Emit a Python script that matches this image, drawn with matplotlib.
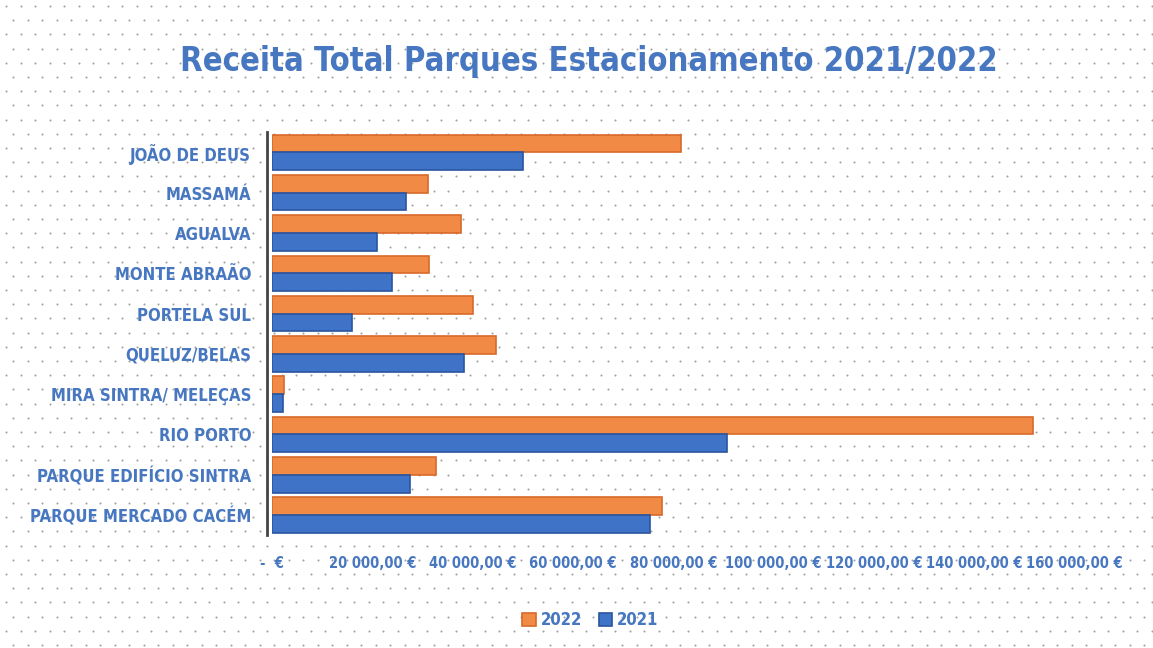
import matplotlib
matplotlib.use("Agg")
import matplotlib.pyplot as plt
from matplotlib.font_manager import FontProperties
import numpy as np

categories = ["JOÃO DE DEUS", "MASSAMÁ", "AGUALVA", "MONTE ABRAÃO", "PORTELA SUL",
              "QUELUZ/BELAS", "MIRA SINTRA/ MELEÇAS", "RIO PORTO",
              "PARQUE EDIFÍCIO SINTRA", "PARQUE MERCADO CACÉM"]
values_2022 = [81600, 31000, 37600, 31200, 40000, 44600, 2400, 151800, 32600, 77800]
values_2021 = [50000, 26600, 21000, 24000, 16000, 38200, 2200, 90600, 27400, 75400]
xticks = [0, 20000, 40000, 60000, 80000, 100000, 120000, 140000, 160000]
xtick_labels = ["-  €", "20 000,00 €", "40 000,00 €", "60 000,00 €", "80 000,00 €",
                "100 000,00 €", "120 000,00 €", "140 000,00 €", "160 000,00 €"]
title = "Receita Total Parques Estacionamento 2021/2022"

ORANGE = "#F08A45"
ORANGE_EDGE = "#D8692A"
BLUE = "#3F73C8"
BLUE_EDGE = "#2A55A0"
TEXT = "#4677C0"


def fp(size):
    return FontProperties(family="DejaVu Sans", weight="bold", stretch="condensed", size=size)


fig = plt.figure(figsize=(11.53, 6.48), dpi=100)
fig.patch.set_facecolor("white")

# subtle dotted background texture (scan look)
bg = fig.add_axes([0, 0, 1, 1], zorder=0)
bg.set_xlim(0, 1153)
bg.set_ylim(648, 0)
bg.axis("off")
gx, gy = np.meshgrid(np.arange(6, 1153, 14.5), np.arange(6, 648, 14.2))
gx = gx + (np.arange(gx.shape[0])[:, None] % 2) * 7
bg.scatter(gx.ravel(), gy.ravel(), s=2.2, c="#555555", linewidths=0, alpha=0.55)

ax = fig.add_axes([0.236, 0.174, 0.696, 0.622], zorder=1)
ax.patch.set_alpha(0)
for s in ["top", "right", "bottom"]:
    ax.spines[s].set_visible(False)
ax.spines["left"].set_color("#444444")
ax.spines["left"].set_linewidth(2)
ax.spines["left"].set_position(("outward", 4))

n = len(categories)
y = np.arange(n)
h = 0.44
ax.barh(y - h / 2, values_2022, height=h, color=ORANGE, edgecolor=ORANGE_EDGE,
        linewidth=1.2, label="2022")
ax.barh(y + h / 2, values_2021, height=h, color=BLUE, edgecolor=BLUE_EDGE,
        linewidth=1.2, label="2021")
ax.set_ylim(n - 0.5, -0.5)
ax.set_xlim(0, 160000)
ax.tick_params(axis="both", length=0)
ax.tick_params(axis="y", pad=11)
ax.tick_params(axis="x", pad=15)
ax.set_yticks(y)
ax.set_yticklabels(categories)
ax.set_xticks(xticks)
ax.set_xticklabels(xtick_labels)
for lab in ax.get_yticklabels():
    lab.set_fontproperties(fp(12))
    lab.set_color(TEXT)
for lab in ax.get_xticklabels():
    lab.set_fontproperties(fp(10.5))
    lab.set_color(TEXT)

fig.text(0.511, 0.905, title, ha="center", va="center", fontproperties=fp(23.5),
         color=TEXT, zorder=2)

leg = fig.legend(loc="center", bbox_to_anchor=(0.512, 0.043), ncol=2, frameon=False,
                 prop=fp(12), handlelength=0.8, handleheight=0.8,
                 columnspacing=1.0, handletextpad=0.3)
for t in leg.get_texts():
    t.set_color(TEXT)

fig.savefig("out.png", dpi=100, facecolor="white")
